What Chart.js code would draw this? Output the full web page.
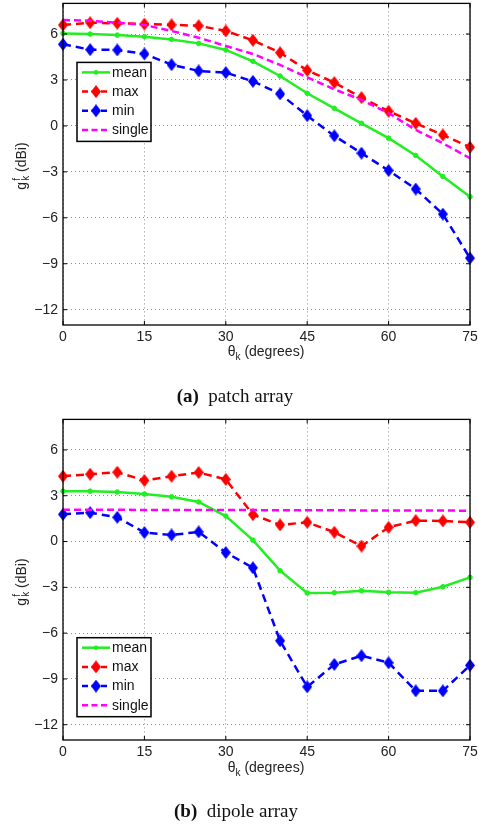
<!DOCTYPE html>
<html>
<head>
<meta charset="utf-8">
<script src="https://cdn.jsdelivr.net/npm/chart.js@4.4.0/dist/chart.umd.min.js"></script>
<style>
  html, body { margin:0; padding:0; background:#fff; }
  body { width:478px; height:827px; position:relative; overflow:hidden; font-family:"Liberation Sans", Arial, sans-serif; }
  .box { position:absolute; left:0; width:478px; height:370px; }
  .xt { position:absolute; font-size:14px; color:#222; transform:translate(-50%,-50%); white-space:nowrap; }
  .yt { position:absolute; font-size:14px; color:#222; transform:translate(-50%,-50%) rotate(-90deg); white-space:nowrap; }
  .xt sub { font-size:10px; vertical-align:-4px; }
  .ss { display:inline-flex; flex-direction:column; font-size:10px; line-height:9px; vertical-align:6px; margin-left:1px; }
  .cap { position:absolute; font-family:"Liberation Serif", "Times New Roman", serif; font-size:19px; color:#111; transform:translate(-50%,-50%); white-space:nowrap; }
</style>
</head>
<body>
<div class="box" style="top:0"><canvas id="c1" width="478" height="370"></canvas></div>
<div class="box" style="top:415px"><canvas id="c2" width="478" height="370"></canvas></div>
<div class="xt" style="left:266px; top:352px">θ<sub>k</sub> (degrees)</div>
<div class="xt" style="left:266px; top:768px">θ<sub>k</sub> (degrees)</div>
<div class="yt" style="left:21px; top:166px">g<span class="ss"><span>f</span><span>k</span></span> (dBi)</div>
<div class="yt" style="left:21px; top:582px">g<span class="ss"><span>f</span><span>k</span></span> (dBi)</div>
<div class="cap" style="left:235px; top:396px"><b>(a)</b>&nbsp; patch array</div>
<div class="cap" style="left:236px; top:811px"><b>(b)</b>&nbsp; dipole array</div>
<script>
// ---- data ----
const ANGLES = [0,5,10,15,20,25,30,35,40,45,50,55,60,65,70,75];
const SERIES_NAMES = ['mean','max','min','single'];
const X_TICKS = [0,15,30,45,60,75];
const Y_TICKS = [-12,-9,-6,-3,0,3,6];

const PATCH_MEAN   = [6.04,6.0,5.93,5.83,5.65,5.39,4.96,4.22,3.26,2.13,1.15,0.17,-0.8,-1.93,-3.3,-4.62];
const PATCH_MAX    = [6.59,6.74,6.7,6.65,6.6,6.54,6.2,5.59,4.78,3.63,2.83,1.85,0.96,0.17,-0.59,-1.39];
const PATCH_MIN    = [5.33,4.98,4.96,4.7,4.0,3.59,3.48,2.91,2.09,0.67,-0.65,-1.78,-2.91,-4.12,-5.76,-8.63];
const PATCH_SINGLE = [6.91,6.87,6.74,6.59,6.2,5.76,5.22,4.7,3.98,3.17,2.39,1.7,0.83,-0.26,-1.13,-2.11];

const DIPOLE_MEAN   = [3.3,3.3,3.24,3.11,2.93,2.59,1.67,0.09,-1.91,-3.37,-3.35,-3.22,-3.33,-3.35,-2.96,-2.35];
const DIPOLE_MAX    = [4.28,4.41,4.54,4.0,4.28,4.52,4.07,1.76,1.09,1.26,0.61,-0.3,0.93,1.37,1.35,1.26];
const DIPOLE_MIN    = [1.78,1.89,1.59,0.59,0.43,0.63,-0.72,-1.72,-6.5,-9.52,-8.05,-7.48,-7.94,-9.78,-9.78,-8.11];
const DIPOLE_SINGLE = [2.08,2.08,2.08,2.07,2.07,2.07,2.06,2.06,2.05,2.05,2.05,2.04,2.04,2.03,2.03,2.02];

// ---- styles ----
function diamond(color, w, h){
  const c = document.createElement('canvas');
  c.width = w; c.height = h;
  const g = c.getContext('2d');
  g.fillStyle = color;
  g.beginPath();
  g.moveTo(w/2, 0); g.lineTo(w, h/2); g.lineTo(w/2, h); g.lineTo(0, h/2); g.closePath();
  g.fill();
  return c;
}
const STYLES = {
  mean:   {color:'#22ee22', dash:[],    pointStyle:'circle', radius:2.3},
  max:    {color:'#ff0000', dash:[8,5], pointStyle:diamond('#ff0000', 10, 13), radius:6},
  min:    {color:'#0000ff', dash:[8,5], pointStyle:diamond('#0000ff', 10, 13), radius:6},
  single: {color:'#ff00ff', dash:[7,4], pointStyle:'circle', radius:0}
};

function pts(vals){ return ANGLES.map((a,i)=>({x:a, y:vals[i]})); }
function fmt(v){ return v < 0 ? '\u2212' + Math.abs(v) : String(v); }
function noPad(s){ s.paddingTop = 0; s.paddingBottom = 0; s.paddingLeft = 0; s.paddingRight = 0; }

const frame = {
  id:'frame',
  afterDatasetsDraw(chart, args, opts){
    const {ctx, chartArea:a, scales} = chart;
    ctx.save();
    ctx.strokeStyle = '#000';
    ctx.lineWidth = 1.3;
    ctx.setLineDash([]);
    ctx.strokeRect(a.left, a.top, a.right-a.left, a.bottom-a.top);
    ctx.lineWidth = 1;
    const tl = 4;
    ctx.beginPath();
    Y_TICKS.forEach(v=>{
      const y = scales.y.getPixelForValue(v);
      ctx.moveTo(a.left, y); ctx.lineTo(a.left+tl, y);
      ctx.moveTo(a.right, y); ctx.lineTo(a.right-tl, y);
    });
    X_TICKS.forEach(v=>{
      const x = scales.x.getPixelForValue(v);
      ctx.moveTo(x, a.bottom); ctx.lineTo(x, a.bottom-tl);
      ctx.moveTo(x, a.top); ctx.lineTo(x, a.top+tl);
    });
    ctx.stroke();

    // legend box
    const lx = a.left + opts.left, ly = a.top + opts.top, lw = 74, lh = 79;
    ctx.fillStyle = '#fff';
    ctx.fillRect(lx, ly, lw, lh);
    ctx.lineWidth = 1.5;
    ctx.strokeStyle = '#000';
    ctx.strokeRect(lx, ly, lw, lh);
    ctx.font = '14px "Liberation Sans", Arial, sans-serif';
    ctx.textBaseline = 'middle';
    chart.data.datasets.forEach((ds, i)=>{
      const st = STYLES[ds.label];
      const y = ly + 10 + i*19.2;
      ctx.strokeStyle = st.color;
      ctx.lineWidth = 2.5;
      ctx.setLineDash(st.dash.length ? [6,3.5] : []);
      ctx.beginPath(); ctx.moveTo(lx+5, y); ctx.lineTo(lx+33, y); ctx.stroke();
      ctx.setLineDash([]);
      if (st.radius > 0) {
        if (typeof st.pointStyle !== 'string') {
          ctx.drawImage(st.pointStyle, lx+19-5, y-6.5);
        } else {
          ctx.fillStyle = st.color;
          ctx.beginPath();
          ctx.arc(lx+19, y, st.radius, 0, Math.PI*2);
          ctx.fill();
        }
      }
      ctx.fillStyle = '#111';
      ctx.fillText(ds.label, lx+35, y+0.5);
    });
    ctx.restore();
  }
};

function makeChart(id, series, padTop, legendTop){
  const datasets = SERIES_NAMES.map((n, i)=>{
    const st = STYLES[n];
    return {
      label:n, data:pts(series[i]),
      borderColor:st.color, backgroundColor:st.color,
      borderWidth:2.5, borderDash:st.dash,
      pointStyle:st.pointStyle, pointRadius:st.radius,
      pointBorderWidth:1, pointBorderColor:st.color, pointBackgroundColor:st.color,
      pointHoverRadius:st.radius,
      tension:0, clip:false, order: 4-i
    };
  });
  return new Chart(document.getElementById(id), {
    type:'line',
    data:{datasets},
    plugins:[frame],
    options:{
      responsive:false, animation:false, devicePixelRatio:1,
      layout:{autoPadding:false, padding:{top:padTop, right:8, left:0, bottom:0}},
      plugins:{legend:{display:false}, tooltip:{enabled:false}, frame:{left:14, top:legendTop}},
      scales:{
        x:{
          type:'linear', min:0, max:75,
          afterFit(s){ s.height = 45; noPad(s); },
          afterBuildTicks(s){ s.ticks = X_TICKS.map(v=>({value:v})); },
          ticks:{padding:4, color:'#222', font:{family:'"Liberation Sans", Arial, sans-serif', size:14}, callback:v=>fmt(v), maxRotation:0, autoSkip:false},
          grid:{color:'rgba(0,0,0,0.45)', lineWidth:1, drawTicks:false},
          border:{display:false, dash:[1,3]}
        },
        y:{
          type:'linear', min:-13, max:8,
          afterFit(s){ s.width = 63; noPad(s); },
          afterBuildTicks(s){ s.ticks = Y_TICKS.map(v=>({value:v})); },
          ticks:{padding:5, color:'#222', font:{family:'"Liberation Sans", Arial, sans-serif', size:14}, callback:v=>fmt(v), autoSkip:false},
          grid:{color:'rgba(0,0,0,0.45)', lineWidth:1, drawTicks:false},
          border:{display:false, dash:[1,3]}
        }
      }
    }
  });
}

makeChart('c1', [PATCH_MEAN, PATCH_MAX, PATCH_MIN, PATCH_SINGLE], 3.4, 59);
makeChart('c2', [DIPOLE_MEAN, DIPOLE_MAX, DIPOLE_MIN, DIPOLE_SINGLE], 4.4, 218.3);
</script>
</body>
</html>
